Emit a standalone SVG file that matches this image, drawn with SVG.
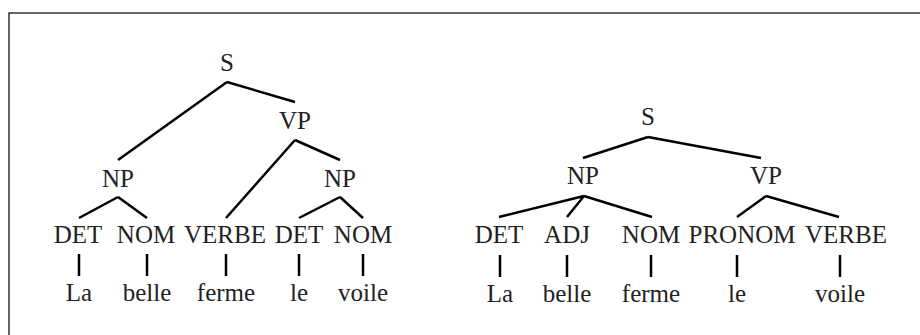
<svg xmlns="http://www.w3.org/2000/svg" width="920" height="335" viewBox="0 0 920 335">
<style>
.t{font-family:"Liberation Serif","Times New Roman",serif;font-size:25px;fill:#222;text-anchor:middle}
.e{stroke:#000;stroke-width:2.5;fill:none;stroke-linecap:butt}
</style>
<rect width="920" height="335" fill="#fff"/>
<rect x="9" y="13" width="930" height="340" fill="none" stroke="#333" stroke-width="1.5"/>
<g id="connectors">
<path class="e" d="M227 82L118 160M227 82L295 102M295 140L226 218M295 140L340 160M118 197L79 218M118 197L147 218M340 197L299 218M340 197L363 218"/>
<path class="e" d="M79 254V276M147 254V276M226 254V276M299 254V276M363 254V276"/>
<path class="e" d="M648 137L583 158M648 137L761 158M584 196L499 217M584 196L567 217M584 196L652 217M766 196L737 217M766 196L839 217"/>
<path class="e" d="M500 255V277M567 255V277M651 255V277M737 255V277M840 255V277"/>
</g>
<g id="t1-S"><text class="t" x="227" y="71">S</text></g>
<g id="t1-VP"><text class="t" x="295" y="129">VP</text></g>
<g id="t1-NP1"><text class="t" x="118" y="187">NP</text></g>
<g id="t1-NP2"><text class="t" x="340" y="187">NP</text></g>
<g id="t1-DET1"><text class="t" x="78" y="243">DET</text></g>
<g id="t1-NOM1"><text class="t" x="146" y="243">NOM</text></g>
<g id="t1-VERBE"><text class="t" x="225" y="243">VERBE</text></g>
<g id="t1-DET2"><text class="t" x="299" y="243">DET</text></g>
<g id="t1-NOM2"><text class="t" x="363" y="243">NOM</text></g>
<g id="t1-La"><text class="t" x="79" y="301">La</text></g>
<g id="t1-belle"><text class="t" x="147" y="301">belle</text></g>
<g id="t1-ferme"><text class="t" x="226" y="301">ferme</text></g>
<g id="t1-le"><text class="t" x="299" y="301">le</text></g>
<g id="t1-voile"><text class="t" x="363" y="301">voile</text></g>
<g id="t2-S"><text class="t" x="648" y="125">S</text></g>
<g id="t2-NP"><text class="t" x="583" y="184">NP</text></g>
<g id="t2-VP"><text class="t" x="766" y="184">VP</text></g>
<g id="t2-DET"><text class="t" x="499" y="243">DET</text></g>
<g id="t2-ADJ"><text class="t" x="567" y="243">ADJ</text></g>
<g id="t2-NOM"><text class="t" x="651" y="243">NOM</text></g>
<g id="t2-PRONOM"><text class="t" x="742" y="243">PRONOM</text></g>
<g id="t2-VERBE"><text class="t" x="846" y="243">VERBE</text></g>
<g id="t2-La"><text class="t" x="500" y="302">La</text></g>
<g id="t2-belle"><text class="t" x="567" y="302">belle</text></g>
<g id="t2-ferme"><text class="t" x="651" y="302">ferme</text></g>
<g id="t2-le"><text class="t" x="737" y="302">le</text></g>
<g id="t2-voile"><text class="t" x="840" y="302">voile</text></g>
</svg>
